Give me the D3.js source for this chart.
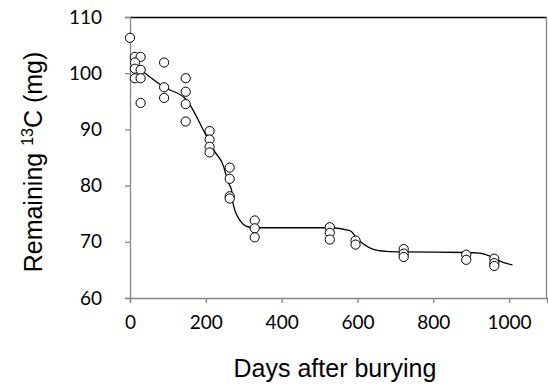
<!DOCTYPE html>
<html>
<head>
<meta charset="utf-8">
<script src="https://cdn.jsdelivr.net/npm/d3@7"></script>
<style>
  body { margin: 0; background: #fff; }
  .tick text { font-family: Lato, "Open Sans", sans-serif; font-size: 19px; fill: #000; }
  .axis-title { font-family: "Liberation Sans", Arial, sans-serif; font-size: 25px; fill: #000; }
</style>
</head>
<body>
<div id="chart"></div>
<script>
// measured points (days, remaining 13C mg)
var obsDays = [0, 13, 28, 13, 13, 28, 13, 28, 28,
    90, 90, 90,
    147, 147, 147, 147,
    210, 210, 210, 210,
    263, 263, 263, 263,
    329, 329, 329,
    527, 527, 527,
    595, 595,
    722, 722, 722,
    887, 887,
    961, 961, 961];
var obsValues = [106.3, 102.9, 102.9, 101.9, 100.8, 100.6, 99.1, 99.1, 94.7,
    101.9, 97.5, 95.6,
    99.1, 96.7, 94.5, 91.4,
    89.7, 88.2, 86.9, 85.9,
    83.2, 81.2, 78.1, 77.7,
    73.8, 72.4, 70.8,
    72.6, 71.6, 70.4,
    70.2, 69.5,
    68.7, 67.9, 67.3,
    67.7, 66.8,
    67.0, 66.2, 65.7];

// fitted line
var fitDays = [28, 90, 147, 198, 224, 246, 255, 263, 268, 272, 290, 303, 316, 329,
    527, 580, 597, 614, 640, 676, 722, 887, 922, 948, 961, 974, 1009];
var fitValues = [100.6, 97.5, 95.4, 89.3, 86.0, 83.6, 81.5, 80.0, 79.2, 76.8, 73.8, 72.9, 72.6, 72.5,
    72.5, 72.0, 70.8, 69.7, 68.7, 68.3, 68.2, 68.1, 68.0, 67.5, 67.1, 66.6, 65.9];

var xTicks = [0, 200, 400, 600, 800, 1000];
var yTicks = [60, 70, 80, 90, 100, 110];

var svgWidth = 548;
var svgHeight = 389;

var margin = {
    top: 17,
    bottom: 91,
    right: 1,
    left: 130
};

var width = svgWidth - margin.left - margin.right;
var height = svgHeight - margin.top - margin.bottom;

var svg = d3.select("#chart")
    .append("svg")
    .attr("width", svgWidth)
    .attr("height", svgHeight);

var chartGroup = svg.append("g")
    .attr("transform", `translate(${margin.left}, ${margin.top})`);

// scales
var xScale = d3.scaleLinear()
    .domain([0, 1100])
    .range([0, width]);

var yScale = d3.scaleLinear()
    .domain([60, 110])
    .range([height, 0]);

// frame: black top, grey right
chartGroup.append("line")
    .attr("x1", 0).attr("x2", width)
    .attr("y1", 0.5).attr("y2", 0.5)
    .attr("stroke", "#000")
    .attr("stroke-width", 1.3);

chartGroup.append("line")
    .attr("x1", width - 0.5).attr("x2", width - 0.5)
    .attr("y1", 0).attr("y2", height)
    .attr("stroke", "#868686")
    .attr("stroke-width", 1.3);

// axes
var bottomAxis = d3.axisBottom(xScale).tickValues(xTicks).tickFormat(d3.format("d"))
    .tickSize(5).tickPadding(13);
var leftAxis = d3.axisLeft(yScale).tickValues(yTicks).tickFormat(d3.format("d"))
    .tickSize(5).tickPadding(23);

var xAxisG = chartGroup.append("g")
    .attr("transform", `translate(0, ${height})`)
    .call(bottomAxis);

var yAxisG = chartGroup.append("g")
    .call(leftAxis);

[xAxisG, yAxisG].forEach(function(g) {
    g.select(".domain").attr("stroke", "#868686").attr("stroke-width", 1.3);
    g.selectAll(".tick line").attr("stroke", "#868686").attr("stroke-width", 1.3);
});

// fitted line
var line = d3.line()
    .x((d, i) => xScale(fitDays[i]))
    .y(d => yScale(d))
    .curve(d3.curveMonotoneX);

chartGroup.append("path")
    .datum(fitValues)
    .attr("d", line)
    .attr("fill", "none")
    .attr("stroke", "#000")
    .attr("stroke-width", 1.3);

// points
chartGroup.append("g").selectAll("circle")
    .data(obsValues)
    .enter()
    .append("circle")
    .attr("cx", (d, i) => xScale(obsDays[i]))
    .attr("cy", d => yScale(d))
    .attr("r", 4.6)
    .attr("fill", "#fff")
    .attr("stroke", "#000")
    .attr("stroke-width", 1);

// axis titles
svg.append("text")
    .classed("axis-title", true)
    .attr("x", 335)
    .attr("y", 377)
    .attr("text-anchor", "middle")
    .text("Days after burying");

var yTitle = svg.append("text")
    .classed("axis-title", true)
    .attr("transform", "rotate(-90)")
    .attr("x", -162)
    .attr("y", 42)
    .attr("text-anchor", "middle");

yTitle.append("tspan").text("Remaining ");
yTitle.append("tspan").attr("font-size", "16px").attr("dy", -9).text("13");
yTitle.append("tspan").attr("dy", 9).text("C (mg)");
</script>
</body>
</html>
